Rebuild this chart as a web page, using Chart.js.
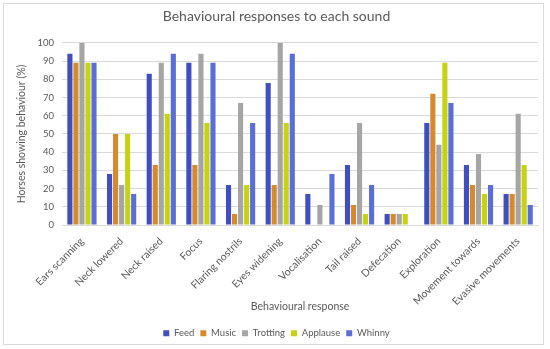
<!DOCTYPE html>
<html><head><meta charset="utf-8">
<script src="https://cdn.jsdelivr.net/npm/chart.js@4/dist/chart.umd.min.js"></script>
<style>
html,body{margin:0;padding:0;background:#fff;}
#wrap{position:relative;width:550px;height:349px;}
#frame{position:absolute;left:3px;top:3px;width:541px;height:342px;border:1px solid #d9d9d9;box-sizing:border-box;}
canvas{position:absolute;left:0;top:0;}
</style></head>
<body>
<div id="wrap"><div id="frame"></div><canvas id="c" width="550" height="349"></canvas></div>
<script>
const categories = ["Ears scanning","Neck lowered","Neck raised","Focus","Flaring nostrils","Eyes widening","Vocalisation","Tail raised","Defecation","Exploration","Movement towards","Evasive movements"];
const feed     = [94,28,83,89,22,78,17,33,6,56,33,17];
const music    = [89,50,33,33,6,22,0,11,6,72,22,17];
const trotting = [100,22,89,94,67,100,11,56,6,44,39,61];
const applause = [89,50,61,56,22,56,0,6,6,89,17,33];
const whinny   = [89,17,94,89,56,94,28,22,0,67,22,11];
const yTicks = [0,10,20,30,40,50,60,70,80,90,100];

const textColor = '#595959';
const font = "Lato, 'Open Sans', sans-serif";
new Chart(document.getElementById('c'), {
  type: 'bar',
  data: {
    labels: categories,
    datasets: [
      {label:'Feed', data: feed, backgroundColor:'#3F4FBF'},
      {label:'Music', data: music, backgroundColor:'#D68A2E'},
      {label:'Trotting', data: trotting, backgroundColor:'#A5A5A5'},
      {label:'Applause', data: applause, backgroundColor:'#C5D313'},
      {label:'Whinny', data: whinny, backgroundColor:'#5A6ED6'}
    ]
  },
  options: {
    responsive:false, animation:false,
    layout:{padding:{left:15,right:12,top:6,bottom:1}},
    datasets:{bar:{categoryPercentage:0.76, barPercentage:0.85}},
    plugins:{
      title:{display:true,text:'Behavioural responses to each sound',color:textColor,font:{family:font,size:14,weight:'normal'},padding:{top:2,bottom:18}},
      legend:{position:'bottom',labels:{boxWidth:6,boxHeight:6,color:textColor,font:{family:font,size:9.5},padding:6}},
      tooltip:{enabled:false}
    },
    scales:{
      x:{
        grid:{display:false},
        border:{color:'#d9d9d9'},
        ticks:{color:textColor,font:{family:font,size:10.5},minRotation:45,maxRotation:45,autoSkip:false,padding:2},
        title:{display:true,text:'Behavioural response',color:textColor,font:{family:font,size:10.5},padding:{top:-10,bottom:10}}
      },
      y:{
        min:0,max:100,
        afterBuildTicks:(ax)=>{ax.ticks = yTicks.map(v=>({value:v}));},
        grid:{color:'#d9d9d9',drawTicks:false},
        border:{display:false},
        ticks:{color:textColor,font:{family:font,size:9.5},padding:8},
        title:{display:true,text:'Horses showing behaviour (%)',color:textColor,font:{family:font,size:10.5},padding:{top:0,bottom:2}}
      }
    }
  }
});
</script>
</body></html>
